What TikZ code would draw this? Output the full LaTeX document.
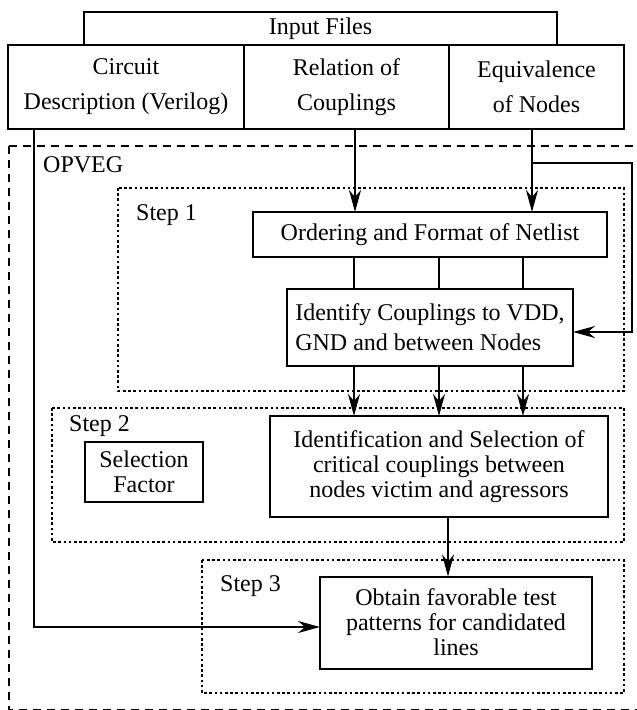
\documentclass[tikz,border=0pt]{standalone}
\usepackage{fontspec}
\setmainfont{Liberation Serif}
\usetikzlibrary{arrows.meta,positioning,calc}

\begin{document}
\begin{tikzpicture}[x=1pt, y=-1pt,
  box/.style={draw, line width=2pt, outer sep=0pt, inner sep=0pt, align=center,
              font=\fontsize{24}{25}\selectfont},
  stepbox/.style={draw, line width=2.2pt, dash pattern=on 2.6pt off 2.6pt},
  lbl/.style={anchor=west, inner sep=0pt, font=\fontsize{24}{25}\selectfont},
  arr/.style={-{Stealth[length=22pt,width=12pt,inset=7pt]}, line width=1.9pt},
  wire/.style={line width=1.9pt}]
  \useasboundingbox (0,0) rectangle (637,710);
  \clip (0,0) rectangle (637,710);

  % input files
  \node[box, minimum width=473pt, minimum height=33pt] (files) at (320.5,28.5) {Input Files};
  \node[box, minimum width=236pt, minimum height=84pt, font=\fontsize{24}{35}\selectfont]
    (circ) at (126,87) {Circuit\\Description (Verilog)};
  \node[box, minimum width=205pt, minimum height=84pt, font=\fontsize{24}{35}\selectfont,
    right=0pt of circ] (rel) {Relation of\\Couplings};
  \node[box, minimum width=175pt, minimum height=84pt, font=\fontsize{24}{35}\selectfont,
    right=0pt of rel] (equiv) {Equivalence\\of Nodes};

  % OPVEG and the steps
  \draw[line width=2pt, dash pattern=on 8pt off 6pt] (9,146) rectangle (660,710);
  \node[lbl] (opveg) at (43,165) {OPVEG};
  \draw[stepbox] (118,188) rectangle (624,391);
  \draw[stepbox] (52,408) rectangle (624,542);
  \draw[stepbox] (202,560) rectangle (624,693);
  \node[lbl] (s1) at (136,215) {Step 1};
  \node[lbl] (s2) at (69,426) {Step 2};
  \node[lbl] (s3) at (220,586) {Step 3};

  \node[box, minimum width=354pt, minimum height=45pt] (order) at (430,234.5)
    {Ordering and Format of Netlist};
  \node[box, minimum width=286pt, minimum height=77pt, align=left,
    font=\fontsize{24}{30}\selectfont] (ident) at (430,327.5)
    {Identify Couplings to VDD,\\GND and between Nodes};
  \node[box, minimum width=118pt, minimum height=60pt] (selfac) at (144,471.5)
    {Selection\\Factor};
  \node[box, minimum width=338pt, minimum height=101pt] (crit) at (439,466.5)
    {Identification and Selection of\\critical couplings between\\nodes victim and agressors};
  \node[box, minimum width=272pt, minimum height=92pt] (obtain) at (456,622.5)
    {Obtain favorable test\\patterns for candidated\\lines};

  % connections
  \coordinate (tap) at ([xshift=-4.5pt, yshift=-34pt]equiv.south);
  \coordinate (rim) at (632,163);
  \draw[arr] ([xshift=26pt]circ.south west) |- ([yshift=-4.5pt]obtain.west);
  \draw[arr] ([xshift=8.5pt]rel.south) -- ([xshift=8.5pt]rel.south |- order.north);
  \draw[arr] ([xshift=-4.5pt]equiv.south) -- ([xshift=-4.5pt]equiv.south |- order.north);
  \draw[arr] (tap) -- (rim) |- ([yshift=-4.5pt]ident.east);
  \foreach \dx in {-76,9,93} {
    \draw[wire] ([xshift=\dx pt]order.south) -- ([xshift=\dx pt]order.south |- ident.north);
    \draw[arr] ([xshift=\dx pt]ident.south) -- ([xshift=\dx pt]ident.south |- crit.north);
  }
  \draw[arr] ([xshift=9pt]crit.south) -- ([xshift=9pt]crit.south |- obtain.north);
\end{tikzpicture}
\end{document}
